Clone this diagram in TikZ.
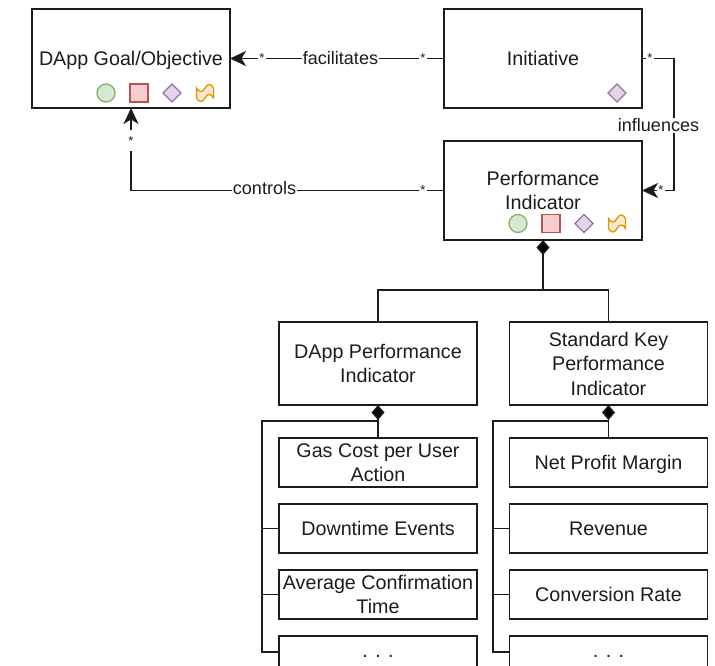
\documentclass[tikz,border=0pt]{standalone}
\usepackage{fontspec}
\setmainfont{Liberation Sans}
\usetikzlibrary{arrows.meta,shapes.geometric,shapes.symbols,calc}
\definecolor{ink}{HTML}{1C1C1C}
\newcommand{\st}{\rule[-4.5pt]{0pt}{22pt}}
\tikzset{
  x=1pt,y=-1pt,
  txt/.style={font=\fontsize{19.7}{24.5}\selectfont,text=ink,align=center},
  bigbox/.style={draw=ink,line width=1.7pt,fill=white,minimum width=198pt,minimum height=99pt,inner sep=0pt,outer sep=0pt,txt},
  midbox/.style={draw=ink,line width=1.6pt,fill=white,minimum width=198pt,minimum height=83pt,inner sep=0pt,outer sep=0pt,txt},
  itembox/.style={draw=ink,line width=1.5pt,fill=white,minimum width=198pt,minimum height=49pt,inner sep=0pt,outer sep=0pt,txt},
  lastbox/.style={itembox,minimum height=32pt},
  conn/.style={draw=ink,line width=1.6pt},
  arrowconn/.style={conn,-{Stealth[length=16pt,width=15pt,inset=4.5pt]}},
  compconn/.style={conn,{Diamond[length=15pt,width=13pt,fill=black]}-},
  lab/.style={fill=white,inner sep=0.5pt,font=\fontsize{18}{20}\selectfont,text=ink},
  star/.style={fill=white,inner ysep=0pt,inner xsep=1.5pt,font=\fontsize{13}{15}\selectfont,text=ink},
  icircle/.style={circle,draw=icg,fill=icgf,line width=1.3pt,minimum size=18pt,inner sep=0pt},
  isquare/.style={rectangle,draw=icr,fill=icrf,line width=1.3pt,minimum size=18pt,inner sep=0pt},
  idiamond/.style={diamond,draw=icp,fill=icpf,line width=1.3pt,minimum size=18.5pt,inner sep=0pt},
  itape/.style={tape,draw=ico,fill=icof,line width=1.3pt,minimum width=17pt,minimum height=17pt,inner sep=0pt,tape bend top=in and out,tape bend bottom=in and out,tape bend height=7pt},
}
\definecolor{icg}{HTML}{82B366}\definecolor{icgf}{HTML}{D5E8D4}
\definecolor{icr}{HTML}{B85450}\definecolor{icrf}{HTML}{F8CECC}
\definecolor{icp}{HTML}{9673A6}\definecolor{icpf}{HTML}{E1D5E7}
\definecolor{ico}{HTML}{D79B00}\definecolor{icof}{HTML}{FFE6CC}
\begin{document}
\begin{tikzpicture}
\useasboundingbox (0,0) rectangle (715,665);
\clip (0,0) rectangle (715,665);
% upper boxes
\node[bigbox] (goal) at (131,58.5) {\st DApp Goal/Objective};
\node[bigbox] (init) at (543,58.5) {\st Initiative};
\node[bigbox] (pi) at (543,190.5) {Performance\\Indicator};
% middle boxes
\node[midbox] (dpi) at (378,363.5) {DApp Performance\\Indicator};
\node[midbox] (std) at (608.5,363.5) {Standard Key\\Performance\\Indicator};
% items
\node[itembox] (a1) at (378,462.5) {Gas Cost per User\\Action};
\node[itembox] (a2) at (378,528.5) {\st Downtime Events};
\node[itembox] (a3) at (378,594.5) {Average Confirmation\\Time};
\node[lastbox] (a4) at (378,652) {\raisebox{-5pt}[0pt][0pt]{. . .}};
\node[itembox] (b1) at (608.5,462.5) {\st Net Profit Margin};
\node[itembox] (b2) at (608.5,528.5) {\st Revenue};
\node[itembox] (b3) at (608.5,594.5) {\st Conversion Rate};
\node[lastbox] (b4) at (608.5,652) {\raisebox{-5pt}[0pt][0pt]{. . .}};
% icons
\node[icircle] (g1) at (106,93) {};
\node[isquare] (g2) at (139,93) {};
\node[idiamond] (g3) at (172,93) {};
\node[itape] (g4) at (205,93) {};
\node[idiamond] (i3) at (617,93) {};
\node[icircle] (p1) at (518,223.5) {};
\node[isquare] (p2) at (551,223.5) {};
\node[idiamond] (p3) at (584,223.5) {};
\node[itape] (p4) at (617,223.5) {};
% relations
\draw[arrowconn] (init.west) -- (goal.east);
\draw[arrowconn] (pi.west) -| (goal.south);
\draw[arrowconn] (init.east) -- ++(32,0) |- (pi.east);
% composition to performance indicator
\coordinate (split) at ($(pi.south)+(0,50)$);
\draw[compconn] (pi.south) -- (split);
\draw[conn] (dpi.north) |- (split) -| (std.north);
% composition to the middle boxes
\draw[compconn] (dpi.south) -- (a1.north);
\draw[compconn] (std.south) -- (b1.north);
\coordinate (la) at ($(dpi.south)+(0,16)$);
\coordinate (lb) at ($(std.south)+(0,16)$);
\coordinate (lac) at ($(la)+(-116,0)$);
\coordinate (lbc) at ($(lb)+(-115.5,0)$);
\draw[conn] (la) -- (lac) |- (a4.west);
\draw[conn] (lac) |- (a2.west);
\draw[conn] (lac) |- (a3.west);
\draw[conn] (lb) -- (lbc) |- (b4.west);
\draw[conn] (lbc) |- (b2.west);
\draw[conn] (lbc) |- (b3.west);
% labels
\node[lab] (lf) at (340.5,58) {facilitates};
\node[lab] (lc) at (264.5,188.5) {controls};
\node[lab] (li) at (658.5,125.5) {influences};
\node[star] (s1) at (262,58) {*};
\node[star] (s2) at (423,58) {*};
\node[star,text height=15pt,text depth=6pt,anchor=north] (s3) at (131,130) {*};
\node[star] (s4) at (423,190) {*};
\node[star] (s5) at (650,58) {*};
\node[star] (s6) at (661,190) {*};
\end{tikzpicture}
\end{document}
